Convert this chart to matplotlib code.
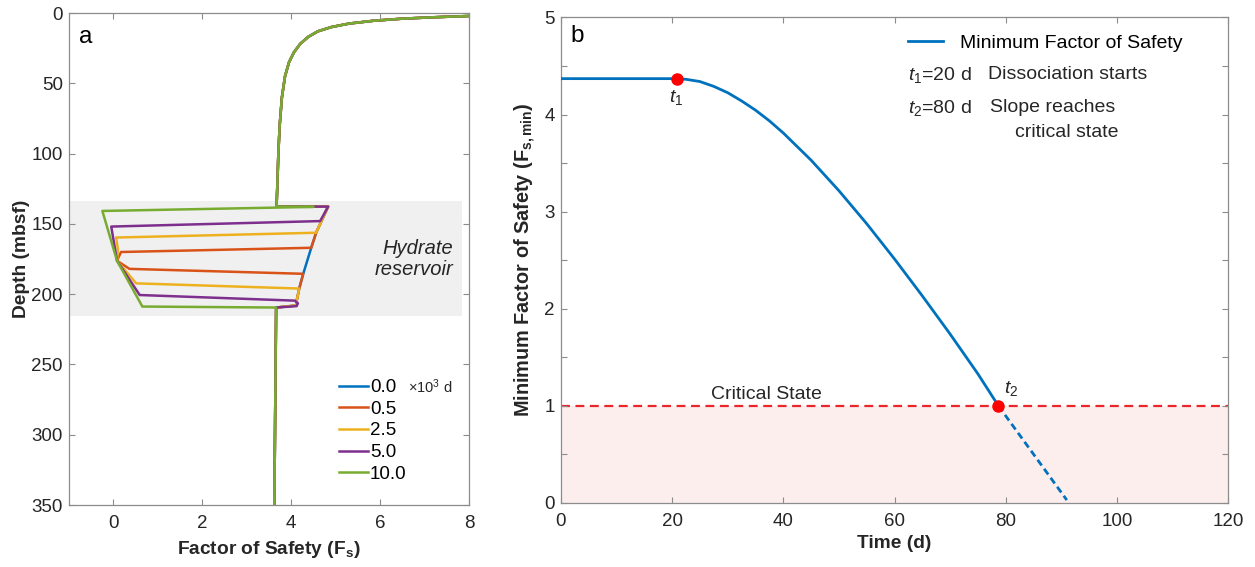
import numpy as np
import matplotlib
matplotlib.use("Agg")
import matplotlib.pyplot as plt

plt.rcParams['font.family'] = ['Liberation Sans', 'DejaVu Sans']
plt.rcParams['mathtext.fontset'] = 'custom'
plt.rcParams['mathtext.rm'] = 'Liberation Sans'
plt.rcParams['mathtext.it'] = 'Liberation Sans:italic'
plt.rcParams['mathtext.bf'] = 'Liberation Sans:bold'

# ---- panel a: Fs profiles vs depth ----
top_fs = [8.0, 7.2, 6.5, 5.85, 5.3, 4.9, 4.6, 4.38, 4.2, 4.06, 3.95, 3.86, 3.79, 3.74, 3.71, 3.69, 3.67]
top_depth = [2.1, 3, 4, 5.5, 7.5, 10, 13, 17, 22, 28, 35, 45, 60, 80, 100, 120, 137.7]
bot_fs = [3.66, 3.62]
bot_depth = [209.5, 350]

res_fs = {
    "0.0": [4.83, 4.68, 4.56, 4.45, 4.27, 4.18, 4.12, 4.12],
    "0.5": [4.83, 4.68, 4.56, 4.45, 0.17, 0.08, 0.36, 4.27, 4.18, 4.12, 4.12],
    "2.5": [4.83, 4.68, 4.56, 0.06, 0.10, 0.08, 0.51, 4.18, 4.12, 4.12],
    "5.0": [4.83, 4.65, -0.05, 0.08, 0.59, 4.08, 4.15, 4.12],
    "10.0": [4.5, -0.25, 0.08, 0.65],
}
res_depth = {
    "0.0": [137.7, 148, 156.3, 167, 185.5, 196, 205, 208],
    "0.5": [137.7, 148, 156.3, 167, 170, 176.2, 182, 185.5, 196, 205, 208],
    "2.5": [137.7, 148, 156.3, 159.7, 168, 176.2, 192.3, 196, 205, 208],
    "5.0": [137.7, 148, 151.9, 176.2, 200.6, 204.6, 206.5, 208.5],
    "10.0": [137.9, 140.8, 176.2, 208.8],
}
prof_colors = ['#0072BD', '#D95319', '#EDB120', '#7E2F8E', '#77AC30']
reservoir_top, reservoir_bot = 133.4, 215.8

# ---- panel b: minimum Fs vs time ----
t_solid = [0, 10, 20.8, 22.5, 25, 27.5, 30, 32.5, 35, 37.5, 40, 45, 50, 55, 60, 65, 70, 75, 78.7]
fs_solid = [4.37, 4.37, 4.37, 4.363, 4.34, 4.29, 4.225, 4.14, 4.045, 3.935, 3.81, 3.53, 3.216,
            2.876, 2.513, 2.133, 1.74, 1.33, 1.0]
t_dash = [78.7, 91.0]
fs_dash = [1.0, 0.03]
t1, t2 = 20.8, 78.7

spine_c = '#8c8c8c'
text_c = '#262626'

fig = plt.figure(figsize=(12.55, 5.67), dpi=100)
ax1 = fig.add_axes([0.0550, 0.1093, 0.3187, 0.8677])
ax2 = fig.add_axes([0.4470, 0.1129, 0.5315, 0.8563])

for ax in (ax1, ax2):
    for s in ax.spines.values():
        s.set_color(spine_c)
        s.set_linewidth(0.9)
    ax.tick_params(direction='in', length=4, width=0.8, color=spine_c,
                   labelcolor=text_c, labelsize=13.5, top=True, right=True)
    ax.tick_params(axis='y', pad=4.5)
    ax.tick_params(axis='x', pad=7)

# panel a
ax1.axhspan(reservoir_top, reservoir_bot, xmin=0, xmax=(7.85 + 1) / 9, color='#f0f0f0', lw=0, zorder=0)
for (lab, fs), c in zip(res_fs.items(), prof_colors):
    x = top_fs + res_fs[lab] + bot_fs
    y = top_depth + res_depth[lab] + bot_depth
    ax1.plot(x, y, color=c, lw=1.8, label=lab, solid_joinstyle='round')
ax1.set_xlim(-1, 8)
ax1.set_ylim(350, 0)
ax1.set_xticks([0, 2, 4, 6, 8])
ax1.set_yticks(np.arange(0, 351, 50))
ax1.set_xlabel(r'Factor of Safety ($\mathbf{F_s}$)', fontsize=13.8, fontweight='bold', color=text_c)
ax1.set_ylabel('Depth (mbsf)', fontsize=13.8, fontweight='bold', color=text_c)
ax1.xaxis.set_label_coords(0.5, -0.069)
ax1.yaxis.set_label_coords(-0.097, 0.5)
ax1.text(0.025, 0.951, 'a', transform=ax1.transAxes, fontsize=17.5, color='k', va='center')
ax1.text(7.65, 175, 'Hydrate\nreservoir', fontsize=14.5, style='italic', ha='right', va='center',
         color=text_c, linespacing=1.1)
ax1.legend(loc='upper left', bbox_to_anchor=(0.675, 0.256), frameon=False, fontsize=13.5,
           handlelength=1.55, handletextpad=0.1, labelspacing=0.24, borderpad=0, borderaxespad=0)
ax1.text(6.63, 266, '\u00d710$^3$ d', fontsize=10.5, color=text_c, ha='left', va='center')

# panel b
ax2.axhspan(0, 1, color='#fdeeee', lw=0, zorder=0)
ax2.axhline(1, color='#e8262b', lw=1.6, ls=(0, (4, 2.5)), zorder=1)
ax2.plot(t_solid, fs_solid, color='#0072BD', lw=2.0, label='Minimum Factor of Safety', zorder=3)
ax2.plot(t_dash, fs_dash, color='#0072BD', lw=2.0, ls=(0, (2.5, 1.5)), zorder=3)
ax2.plot([t1, t2], [fs_solid[2], fs_dash[0]], 'o', color='#ff0000', ms=8, zorder=4)
ax2.set_xlim(0, 120)
ax2.set_ylim(0, 5)
ax2.set_xticks(np.arange(0, 121, 20))
ax2.set_yticks(np.arange(0, 6, 1))
ax2.set_yticks(np.arange(0.5, 5, 1), minor=True)
ax2.tick_params(which='minor', direction='in', length=4, width=0.8, color=spine_c, right=True)
ax2.set_xlabel('Time (d)', fontsize=13.8, fontweight='bold', color=text_c)
ax2.set_ylabel(r'Minimum Factor of Safety ($\mathbf{F_{s,min}}$)', fontsize=14.3, fontweight='bold', color=text_c)
ax2.xaxis.set_label_coords(0.5, -0.066)
ax2.yaxis.set_label_coords(-0.035, 0.5)
ax2.text(0.0135, 0.962, 'b', transform=ax2.transAxes, fontsize=17.5, color='k', va='center')
ax2.text(37, 1.03, 'Critical State', fontsize=14, ha='center', va='bottom', color=text_c)
ax2.text(t1, 4.27, '$t_1$', fontsize=14, ha='center', va='top', color=text_c)
ax2.text(81, 1.18, '$t_2$', fontsize=14, ha='center', va='center', color=text_c)
ax2.legend(loc='center left', bbox_to_anchor=(0.5202, 0.947), frameon=False, fontsize=14,
           handlelength=1.8, handletextpad=0.87, borderpad=0, borderaxespad=0)
ax2.text(62.4, 4.41, '$t_1$=20 d', fontsize=14, ha='left', va='center', color=text_c)
ax2.text(76.8, 4.41, 'Dissociation starts', fontsize=14, ha='left', va='center', color=text_c)
ax2.text(62.4, 4.07, '$t_2$=80 d', fontsize=14, ha='left', va='center', color=text_c)
ax2.text(77.1, 4.07, 'Slope reaches', fontsize=14, ha='left', va='center', color=text_c)
ax2.text(81.6, 3.82, 'critical state', fontsize=14, ha='left', va='center', color=text_c)

fig.savefig('out.png', dpi=100)
